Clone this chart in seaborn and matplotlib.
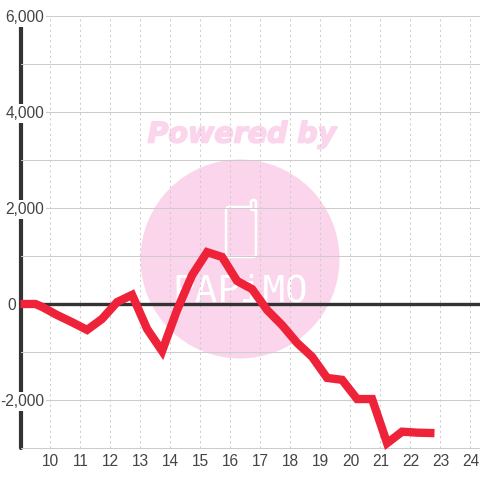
import matplotlib
matplotlib.use("Agg")
import matplotlib.pyplot as plt
import matplotlib.patheffects as pe
import pandas as pd
import seaborn as sns
from matplotlib.patches import Circle, FancyBboxPatch

# -------------------------------
# Data
# -------------------------------
hours = [9.0, 9.5, 9.72, 10.22, 10.72, 11.22, 11.72, 12.22, 12.72, 13.22, 13.72,
         14.22, 14.72, 15.22, 15.72, 16.22, 16.72, 17.22, 17.72, 18.22, 18.72,
         19.22, 19.72, 20.22, 20.72, 21.22, 21.72, 22.22, 22.8]
profit = [0, 0, -60, -230, -380, -540, -310, 40, 190, -520, -980,
          -125, 600, 1080, 980, 480, 310, -125, -440, -810, -1100,
          -1540, -1580, -1980, -1980, -2900, -2660, -2680, -2690]
x_ticks = list(range(10, 25))
y_ticks = [-2000, 0, 2000, 4000, 6000]
y_minor = [-3000, -1000, 1000, 3000, 5000]
y_labels = ["-2,000", "0", "2,000", "4,000", "6,000"]

# -------------------------------
# Config
# -------------------------------
RED = "#ee2238"
DARK = "#333333"
GRID = "#cccccc"
PINK = "#fbd5ec"
sns.set_theme(style="white")
plt.rcParams["font.family"] = ["Liberation Sans", "DejaVu Sans"]

fig = plt.figure(figsize=(4.8, 4.8), dpi=100, facecolor="white")

# watermark sits behind the chart, in pixel coordinates
bg = fig.add_axes([0, 0, 1, 1], zorder=0)
bg.set_xlim(0, 480)
bg.set_ylim(480, 0)
bg.axis("off")
bg.add_patch(Circle((240, 259), 99.5, fc=PINK, ec="none"))
title = bg.text(242, 134.5, "Powered by", ha="center", va="center", color=PINK, fontsize=20.5,
                family="DejaVu Sans", weight="bold", style="italic")
title.set_path_effects([pe.withStroke(linewidth=1.2, foreground=PINK)])
bg.add_patch(FancyBboxPatch((226, 207), 30, 50, boxstyle="round,pad=0,rounding_size=3",
                            fc="none", ec="white", lw=1.8))
bg.add_patch(FancyBboxPatch((251, 200), 5, 10, boxstyle="round,pad=0,rounding_size=2",
                            fc=PINK, ec="white", lw=1.8))
bg.text(240, 291, "PAPiMO", ha="center", va="center", color="white", fontsize=27,
        family="DejaVu Sans Mono")

# -------------------------------
# Chart
# -------------------------------
ax = fig.add_axes([20.5 / 480, 32 / 480, 459.5 / 480, 432 / 480], zorder=1)
ax.patch.set_visible(False)
for side in ax.spines:
    ax.spines[side].set_visible(False)

df = pd.DataFrame({"hour": hours, "profit": profit})
sns.lineplot(data=df, x="hour", y="profit", ax=ax, color=RED, linewidth=6,
             errorbar=None, estimator=None, sort=False, zorder=5,
             solid_joinstyle="miter", solid_capstyle="butt", clip_on=False)

ax.set_xlim(9.0, 24.317)
ax.set_ylim(-3000, 6000)
ax.set_xlabel("")
ax.set_ylabel("")
ax.set_xticks(x_ticks)
ax.set_yticks(y_ticks)
ax.set_yticks(y_minor, minor=True)
ax.set_yticklabels(y_labels)
ax.set_axisbelow(True)
ax.grid(True, axis="y", which="both", color=GRID, lw=0.75, ls="-")
ax.grid(True, axis="x", which="major", color=GRID, lw=0.75, ls=(0, (2, 3)))
ax.tick_params(axis="both", which="both", length=0, labelsize=11.2, labelcolor="#444444")
ax.tick_params(axis="x", pad=4)
ax.tick_params(axis="y", pad=-17)
for lab in ax.get_yticklabels():
    lab.set_bbox(dict(fc="white", ec="none", pad=1.5))
ax.yaxis.get_major_ticks()[1].set_pad(3)
ax.yaxis.get_major_ticks()[1].label1.set_bbox(None)
# the bottom gridline sits right on the axes edge
for tick in ax.yaxis.get_minor_ticks():
    tick.gridline.set_clip_on(False)

ax.axvline(9.0, color=DARK, lw=3, zorder=0.4, clip_on=False)
ax.axhline(0, color=DARK, lw=2.4, zorder=1)

plt.savefig("out.png", dpi=100)
